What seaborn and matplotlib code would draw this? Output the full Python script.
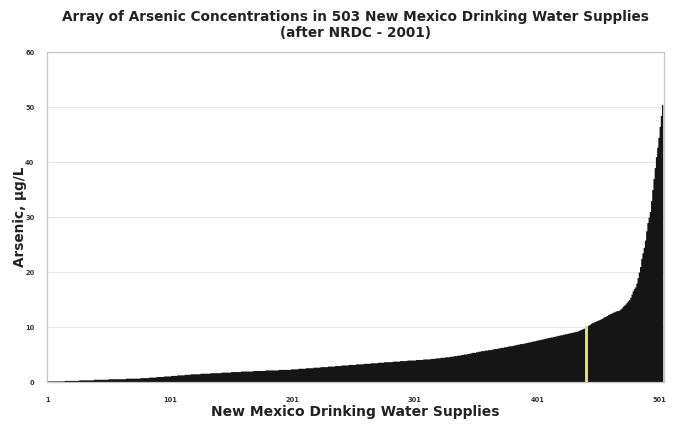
import numpy as np
import pandas as pd
import matplotlib
matplotlib.use("Agg")
import matplotlib.pyplot as plt
import seaborn as sns

# Arsenic concentration levels (µg/L) and the number of supplies found at each level
levels = [
    0.2, 0.3, 0.4, 0.5, 0.6, 0.7, 0.8, 0.9, 1.0,
    1.1, 1.2, 1.3, 1.4, 1.5, 1.6, 1.7, 1.8, 1.9, 2.0,
    2.1, 2.2, 2.3, 2.4, 2.5, 2.6, 2.7, 2.8, 2.9, 3.0,
    3.1, 3.2, 3.3, 3.4, 3.5, 3.6, 3.7, 3.8, 3.9, 4.0,
    4.1, 4.2, 4.3, 4.4, 4.5, 4.6, 4.7, 4.8, 4.9, 5.0,
    5.1, 5.2, 5.3, 5.4, 5.5, 5.6, 5.7, 5.8, 5.9, 6.0,
    6.1, 6.2, 6.3, 6.4, 6.5, 6.6, 6.7, 6.8, 6.9, 7.0,
    7.1, 7.2, 7.3, 7.4, 7.5, 7.6, 7.7, 7.8, 7.9, 8.0,
    8.1, 8.2, 8.3, 8.4, 8.5, 8.6, 8.7, 8.8, 8.9, 9.0,
    9.1, 9.2, 9.3, 9.4, 9.5, 9.6, 9.7, 9.8, 9.9, 10.0,
    10.2, 10.4, 10.5, 10.7, 10.8, 10.9, 11.0, 11.1, 11.2, 11.3,
    11.4, 11.5, 11.6, 11.8, 11.9, 12.0, 12.1, 12.3, 12.4, 12.5,
    12.6, 12.7, 12.8, 12.9, 13.0, 13.1, 13.3, 13.5, 13.8, 14.0,
    14.2, 14.5, 14.8, 15.0, 15.4, 16.0, 16.6, 17.0, 17.3, 18.0,
    19.0, 20.0, 21.0, 22.5, 23.5, 24.5, 25.8, 27.5, 29.0, 30.0,
    31.0, 33.0, 35.0, 37.0, 39.0, 41.0, 42.7, 44.5, 46.5, 48.5,
    50.5,
]
n_supplies = [
    14, 12, 12, 12, 14, 12, 7, 6, 6,
    6, 5, 6, 5, 8, 8, 9, 8, 8, 10,
    10, 11, 10, 6, 6, 6, 6, 6, 6, 5,
    6, 6, 6, 6, 6, 5, 7, 6, 6, 7,
    6, 6, 4, 4, 4, 4, 3, 3, 3, 2,
    3, 2, 2, 3, 2, 2, 3, 3, 3, 2,
    3, 2, 3, 2, 2, 3, 2, 2, 2, 3,
    2, 2, 2, 2, 2, 2, 2, 2, 2, 2,
    2, 2, 2, 2, 2, 2, 2, 2, 2, 2,
    2, 2, 1, 1, 1, 1, 1, 1, 1, 1,
    1, 1, 1, 1, 1, 1, 1, 1, 1, 1,
    1, 1, 1, 1, 1, 1, 1, 1, 1, 1,
    1, 1, 1, 1, 2, 1, 1, 1, 1, 1,
    1, 1, 1, 1, 1, 1, 1, 1, 1, 1,
    1, 1, 1, 1, 1, 1, 1, 1, 1, 1,
    1, 1, 1, 1, 1, 1, 1, 1, 1, 1,
    1,
]
x_ticks = [1, 101, 201, 301, 401, 501]
y_ticks = [0, 10, 20, 30, 40, 50, 60]
standard = 10.0  # µg/L drinking water standard

arsenic = np.repeat(levels, n_supplies)
supply = np.arange(1, len(arsenic) + 1)
df = pd.DataFrame({"supply": supply, "arsenic": arsenic})
at_standard = df[df["arsenic"] >= standard].iloc[[0]]

sns.set_theme(style="white")
plt.rcParams["font.family"] = ["DejaVu Sans"]

fig = plt.figure(figsize=(6.81, 4.24), dpi=100)
ax = fig.add_axes([0.069, 0.099, 0.906, 0.778])

sns.histplot(data=df, x="supply", weights="arsenic", discrete=True,
             element="step", fill=True, color="#151515", alpha=1,
             linewidth=0, ax=ax)
sns.histplot(data=at_standard, x="supply", weights="arsenic", discrete=True,
             color="#e8e05c", alpha=1, edgecolor="#e8e05c", linewidth=1.4,
             ax=ax)

ax.set_xlim(0.5, 504.5)
ax.set_ylim(0, 60)
ax.set_xticks(x_ticks)
ax.set_yticks(y_ticks)
ax.tick_params(axis="both", length=0, labelsize=4.8, colors="#333333")
for lbl in ax.get_xticklabels() + ax.get_yticklabels():
    lbl.set_fontweight("bold")
ax.tick_params(axis="y", pad=9)
ax.tick_params(axis="x", pad=11)
ax.set_axisbelow(True)
ax.yaxis.grid(True, color="#ebe6e6", linewidth=0.7)
ax.xaxis.grid(False)
for s in ax.spines.values():
    s.set_color("#c4c4c4")
    s.set_linewidth(0.9)

ax.set_xlabel("New Mexico Drinking Water Supplies", fontsize=10,
              fontweight="bold", labelpad=1, color="#222222")
ax.set_ylabel("Arsenic, µg/L", fontsize=9.8, fontweight="bold",
              labelpad=-1, color="#222222")
ax.set_title("Array of Arsenic Concentrations in 503 New Mexico Drinking Water Supplies\n(after NRDC - 2001)",
             fontsize=9.8, fontweight="bold", color="#222222", pad=11,
             linespacing=1.15)

fig.savefig("out.png", dpi=100, facecolor="white")
